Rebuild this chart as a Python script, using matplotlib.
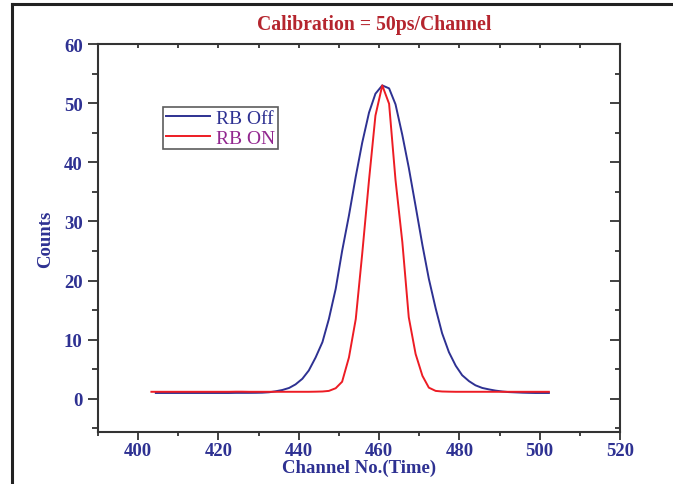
import matplotlib
matplotlib.use("Agg")
import matplotlib.pyplot as plt
from matplotlib.lines import Line2D
from matplotlib.ticker import MultipleLocator

channel = [404.4, 406.0, 407.7, 409.3, 411.0, 412.7, 414.3, 416.0, 417.6, 419.3,
           421.0, 422.6, 424.3, 425.9, 427.6, 429.3, 430.9, 432.6, 434.2, 435.9,
           437.6, 439.2, 440.9, 442.5, 444.2, 445.9, 447.5, 449.2, 450.8, 452.5,
           454.2, 455.8, 457.5, 459.1, 460.8, 462.5, 464.1, 465.8, 467.4, 469.1,
           470.8, 472.4, 474.1, 475.7, 477.4, 479.1, 480.7, 482.4, 484.0, 485.7,
           487.4, 489.0, 490.7, 492.3, 494.0, 495.7, 497.3, 499.0, 500.6, 502.3]

rb_off = [1.0, 1.0, 1.0, 1.0, 1.0, 1.0, 1.0, 1.0, 1.0, 1.0,
          1.0, 1.0, 1.02, 1.02, 1.02, 1.03, 1.05, 1.12, 1.28, 1.5,
          1.85, 2.45, 3.4, 4.8, 7.0, 9.6, 13.5, 18.6, 25.0, 31.0,
          37.6, 43.3, 48.4, 51.6, 53.0, 52.5, 49.8, 44.6, 39.1, 32.6,
          26.0, 20.3, 15.3, 11.1, 7.9, 5.6, 4.0, 3.0, 2.3, 1.85,
          1.6, 1.4, 1.25, 1.15, 1.1, 1.05, 1.02, 1.0, 1.0, 1.0]

rb_on = [1.2, 1.2, 1.2, 1.2, 1.2, 1.2, 1.2, 1.2, 1.2, 1.2,
         1.2, 1.2, 1.22, 1.22, 1.2, 1.2, 1.2, 1.2, 1.2, 1.2,
         1.2, 1.2, 1.2, 1.2, 1.22, 1.25, 1.35, 1.8, 2.9, 7.0,
         13.5, 24.5, 37.0, 47.9, 53.0, 49.9, 37.0, 26.5, 13.8, 7.6,
         3.9, 1.9, 1.35, 1.25, 1.22, 1.2, 1.2, 1.2, 1.2, 1.2,
         1.2, 1.2, 1.2, 1.2, 1.2, 1.2, 1.2, 1.2, 1.2, 1.2]

on_start = 403.3

NAVY = "#2E3192"
RED = "#ED1C24"
TITLE_RED = "#B5252E"
PURPLE = "#92278F"
SPINE = "#333333"

plt.rcParams["font.family"] = ["Liberation Serif", "DejaVu Serif"]

fig = plt.figure(figsize=(6.73, 4.85), dpi=100)
ax = fig.add_axes([0.1456, 0.1072, 0.7756, 0.8000])

ax.plot(channel, rb_off, color=NAVY, lw=1.4, label="RB Off")
ax.plot([on_start] + channel, [rb_on[0]] + rb_on, color=RED, lw=1.4, label="RB ON")

ax.set_xlim(390, 520)
ax.set_ylim(-5.6, 60)
ax.xaxis.set_major_locator(MultipleLocator(20))
ax.xaxis.set_minor_locator(MultipleLocator(10))
ax.yaxis.set_major_locator(MultipleLocator(10))
ax.yaxis.set_minor_locator(MultipleLocator(5))

for s in ax.spines.values():
    s.set_color(SPINE)
    s.set_linewidth(1.5)

ax.tick_params(axis="both", which="both", colors=SPINE, labelcolor=NAVY, width=1.3)
ax.tick_params(axis="x", which="major", direction="out", length=6, bottom=True, top=False, pad=1)
ax.tick_params(axis="x", which="minor", direction="out", length=3, bottom=True, top=False)
ax.tick_params(axis="y", which="major", direction="out", length=7, left=True, right=False, pad=4)
ax.tick_params(axis="y", which="minor", direction="out", length=4, left=True, right=False)
ax.tick_params(axis="both", which="major", labelsize=13.5)

# top and right ticks (inward)
secx = ax.secondary_xaxis("top")
secx.xaxis.set_major_locator(MultipleLocator(10))
secx.tick_params(direction="in", length=3, width=1.3, colors=SPINE, labeltop=False)
secx.spines["top"].set_visible(False)
secy = ax.secondary_yaxis("right")
secy.yaxis.set_major_locator(MultipleLocator(10))
secy.yaxis.set_minor_locator(MultipleLocator(5))
secy.tick_params(which="major", direction="in", length=7, width=1.3, colors=SPINE, labelright=False)
secy.tick_params(which="minor", direction="in", length=3.5, width=1.3, colors=SPINE)
secy.spines["right"].set_visible(False)

for lab in ax.get_xticklabels() + ax.get_yticklabels():
    lab.set_fontweight("bold")

ax.set_xlabel("Channel No.(Time)", fontsize=13.5, fontweight="bold", color=NAVY, labelpad=0)
ax.set_ylabel("Counts", fontsize=13.5, fontweight="bold", color=NAVY, labelpad=7)
fig.text(0.5565, 0.948, "Calibration = 50ps/Channel", ha="center", va="center",
         fontsize=14.2, fontweight="bold", color=TITLE_RED)

leg = ax.legend(loc="upper left", bbox_to_anchor=(0.125, 0.838), fontsize=14,
                frameon=True, fancybox=False, borderpad=0.12, handlelength=2.3,
                handletextpad=0.3, labelspacing=0.12, borderaxespad=0)
leg.get_frame().set_edgecolor(SPINE)
leg.get_frame().set_linewidth(1.2)
texts = leg.get_texts()
texts[0].set_color(NAVY)
texts[1].set_color(PURPLE)

# outer frame (top and left edges)
fig.add_artist(Line2D([12 / 673, 1.0], [1 - 5 / 485, 1 - 5 / 485], transform=fig.transFigure,
                      color="#222222", lw=2.2))
fig.add_artist(Line2D([12 / 673, 12 / 673], [0, 1 - 5 / 485], transform=fig.transFigure,
                      color="#222222", lw=2.2))

fig.savefig("out.png", dpi=100)
